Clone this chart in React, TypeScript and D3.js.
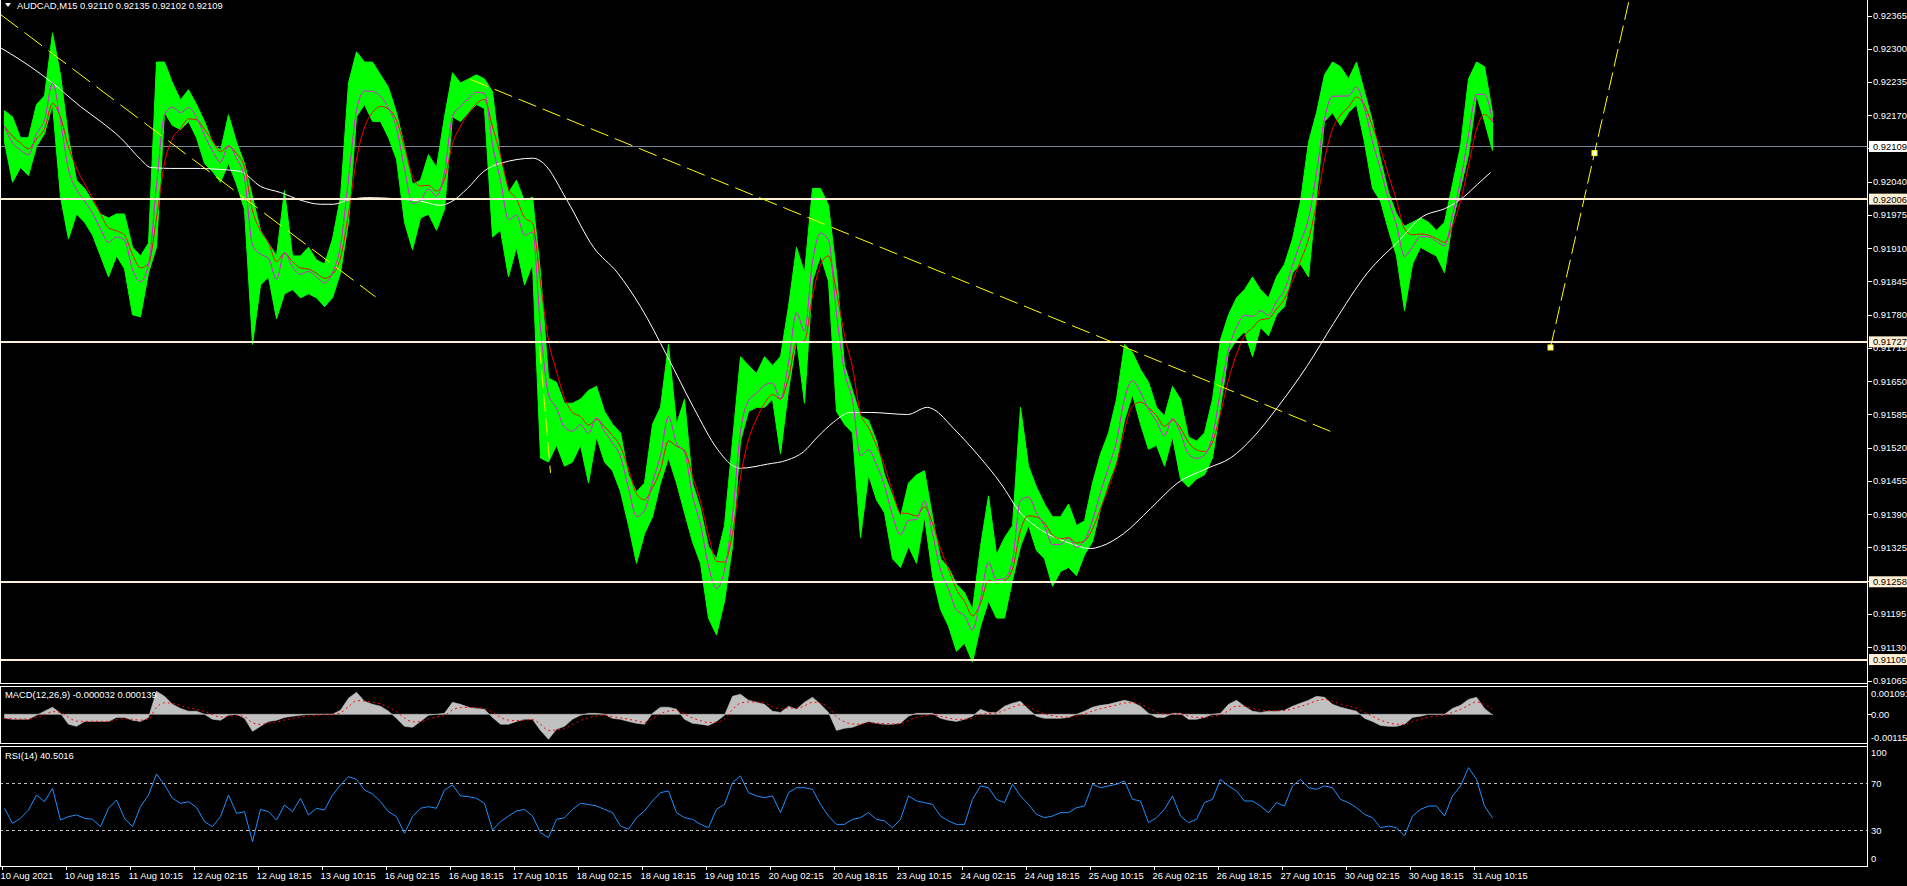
import React from "react";
import * as d3 from "d3";

// ---------- text ----------
const symbolTitle = "AUDCAD,M15  0.92110 0.92135 0.92102 0.92109";
const macdTitle = "MACD(12,26,9) -0.000032 0.000139";
const rsiTitle = "RSI(14) 40.5016";

const timeLabels = [
  "10 Aug 2021", "10 Aug 18:15", "11 Aug 10:15", "12 Aug 02:15", "12 Aug 18:15", "13 Aug 10:15",
  "16 Aug 02:15", "16 Aug 18:15", "17 Aug 10:15", "18 Aug 02:15", "18 Aug 18:15", "19 Aug 10:15",
  "20 Aug 02:15", "20 Aug 18:15", "23 Aug 10:15", "24 Aug 02:15", "24 Aug 18:15", "25 Aug 10:15",
  "26 Aug 02:15", "26 Aug 18:15", "27 Aug 10:15", "30 Aug 02:15", "30 Aug 18:15", "31 Aug 10:15",
];
const timeTickBars = [1, 65, 129, 193, 257, 321, 385, 449, 513, 577, 641, 705, 769, 833, 897, 961, 1025, 1089, 1153, 1217, 1281, 1345, 1409, 1473];

const priceTicks = [0.92365, 0.923, 0.92235, 0.9217, 0.92105, 0.9204, 0.91975, 0.9191, 0.91845, 0.9178, 0.91715,
  0.9165, 0.91585, 0.9152, 0.91455, 0.9139, 0.91325, 0.9126, 0.91195, 0.9113, 0.91065];
const priceTickLabels = ["0.92365", "0.92300", "0.92235", "0.92170", "0.92105", "0.92040", "0.91975", "0.91910", "0.91845",
  "0.91780", "0.91715", "0.91650", "0.91585", "0.91520", "0.91455", "0.91390", "0.91325", "0.91260", "0.91195", "0.91130", "0.91065"];

const levelPrices = [0.92006, 0.91727, 0.91258, 0.91106];
const levelLabels = ["0.92006", "0.91727", "0.91258", "0.91106"];
const lastPrice = 0.92109;
const lastPriceLabel = "0.92109";

// ---------- price samples (one every 8 bars, starting at bar 4) ----------
const SAMPLE_START = 4;
const SAMPLE_STEP = 8;

const hi = [
  0.92179, 0.92167, 0.92126, 0.92126, 0.92191, 0.92208, 0.92331, 0.92249, 0.92126, 0.92043,
  0.92027, 0.92002, 0.91977, 0.91969, 0.91977, 0.91977, 0.91912, 0.91895, 0.9192, 0.92274,
  0.92274, 0.92233, 0.922, 0.9222, 0.92191, 0.92158, 0.92117, 0.92101, 0.92171, 0.92117,
  0.92076, 0.9201, 0.91945, 0.9192, 0.91895, 0.92023, 0.91895, 0.91895, 0.91912, 0.91887,
  0.91879, 0.91928, 0.9201, 0.92233, 0.92294, 0.92274, 0.92274, 0.92249, 0.92224, 0.92175,
  0.92109, 0.92035, 0.92043, 0.92093, 0.92068, 0.92167, 0.92253, 0.92233, 0.92241, 0.92249,
  0.92241, 0.92216, 0.92084, 0.92019, 0.92043, 0.92002, 0.9201, 0.91862, 0.91656, 0.91648,
  0.91607, 0.91607, 0.91615, 0.91632, 0.9164, 0.91591, 0.91566, 0.91549, 0.91467, 0.91434,
  0.91451, 0.91566, 0.91599, 0.91722, 0.91566, 0.91615, 0.91451, 0.91401, 0.91327, 0.91303,
  0.91368, 0.91533, 0.91698, 0.91681, 0.91665, 0.91698, 0.91681, 0.91698, 0.91796, 0.91912,
  0.91862, 0.92027, 0.92027, 0.91994, 0.91862, 0.91681, 0.91632, 0.91582, 0.91574, 0.91533,
  0.91467, 0.91426, 0.91385, 0.91451, 0.91467, 0.91475, 0.91385, 0.91303, 0.91286, 0.91253,
  0.91237, 0.91204, 0.91327, 0.91426, 0.91311, 0.91344, 0.91368, 0.91599, 0.91484, 0.91443,
  0.9141, 0.91385, 0.91385, 0.9141, 0.91368, 0.91377, 0.91451, 0.91508, 0.91549, 0.91615,
  0.91722, 0.91706, 0.91673, 0.91648, 0.91599, 0.91582, 0.9164, 0.91615, 0.91541, 0.91533,
  0.91549, 0.91615, 0.91731, 0.9178, 0.91813, 0.91829, 0.91854, 0.91829, 0.91813, 0.91854,
  0.91879, 0.91928, 0.92002, 0.92117, 0.92175, 0.92249, 0.92274, 0.92265, 0.92241, 0.92274,
  0.92216, 0.92158, 0.92084, 0.92019, 0.91977, 0.91953, 0.91961, 0.91969, 0.91961, 0.91945,
  0.91961, 0.92035, 0.92109, 0.92241, 0.92274, 0.92265, 0.92175,
];
const lo = [
  0.92117, 0.92039, 0.92068, 0.92052, 0.92109, 0.92134, 0.92191, 0.9201, 0.91928, 0.91977,
  0.91961, 0.91936, 0.91895, 0.91854, 0.91895, 0.9187, 0.9178, 0.91776, 0.91862, 0.91912,
  0.92175, 0.9215, 0.92142, 0.92158, 0.92126, 0.92076, 0.9206, 0.92039, 0.92076, 0.92035,
  0.91986, 0.91722, 0.91838, 0.91854, 0.91772, 0.91821, 0.91829, 0.91813, 0.91821, 0.91813,
  0.91796, 0.91813, 0.91862, 0.91961, 0.92167, 0.92191, 0.92158, 0.92158, 0.92126, 0.92084,
  0.91961, 0.91907, 0.91969, 0.91977, 0.91945, 0.91986, 0.92167, 0.92158, 0.92175, 0.92191,
  0.92183, 0.91932, 0.91945, 0.91854, 0.91912, 0.91838, 0.91879, 0.915, 0.91492, 0.91525,
  0.91484, 0.91492, 0.91525, 0.91451, 0.91541, 0.91492, 0.91475, 0.91434, 0.91368, 0.91294,
  0.91352, 0.91385, 0.91451, 0.915, 0.91451, 0.91393, 0.91336, 0.91294, 0.91187, 0.91154,
  0.9122, 0.91327, 0.91533, 0.91591, 0.91599, 0.91599, 0.91615, 0.91508, 0.91632, 0.91731,
  0.91607, 0.91846, 0.91895, 0.91846, 0.91591, 0.91566, 0.91549, 0.91344, 0.91467, 0.91418,
  0.91393, 0.91303, 0.91286, 0.91327, 0.91294, 0.91385, 0.9127, 0.91204, 0.91171, 0.91122,
  0.91138, 0.91101, 0.91171, 0.9122, 0.91187, 0.91187, 0.91261, 0.91327, 0.91368, 0.91319,
  0.91303, 0.91249, 0.91278, 0.91286, 0.9127, 0.91311, 0.91336, 0.91401, 0.91451, 0.91492,
  0.91574, 0.91624, 0.91566, 0.91517, 0.91525, 0.91484, 0.91541, 0.91459, 0.91443, 0.91459,
  0.91467, 0.915, 0.91599, 0.91706, 0.91731, 0.91747, 0.91698, 0.91755, 0.91739, 0.9178,
  0.91796, 0.91862, 0.91879, 0.91854, 0.9201, 0.92158, 0.92175, 0.9215, 0.92175, 0.92191,
  0.92117, 0.92027, 0.92002, 0.91945, 0.91895, 0.91788, 0.91879, 0.91912, 0.91903, 0.91895,
  0.91862, 0.91961, 0.92027, 0.92093, 0.92208, 0.92158, 0.92101,
];

// ---------- long moving average (white) ----------
const maLongBars = [0, 20, 40, 60, 80, 100, 120, 140, 150, 170, 200, 220, 240, 260, 280, 300, 320, 333, 347, 367,
  400, 420, 440, 450, 467, 483, 500, 533, 543, 567, 593, 617, 640, 667, 693, 717, 733, 740, 767, 787,
  803, 817, 833, 850, 870, 907, 927, 933, 953, 980, 1000, 1020, 1040, 1067, 1090, 1100, 1123, 1150, 1177, 1207,
  1230, 1253, 1277, 1307, 1333, 1367, 1400, 1420, 1447, 1463, 1477, 1490];
const maLongVals = [0.92302, 0.92278, 0.92251, 0.9222, 0.92187, 0.92158, 0.92126, 0.92084, 0.92068, 0.92066,
  0.92066, 0.92064, 0.9206, 0.92031, 0.92019, 0.92004, 0.91996, 0.91996, 0.92004, 0.92009,
  0.92006, 0.92002, 0.91994, 0.92, 0.92027, 0.9206, 0.92076, 0.92086, 0.92076, 0.92002,
  0.91912, 0.91862, 0.91796, 0.91698, 0.91599, 0.91517, 0.91484, 0.9148, 0.91488, 0.91496,
  0.91512, 0.91541, 0.9157, 0.91589, 0.91589, 0.91585, 0.91599, 0.91595, 0.91558, 0.915,
  0.91451, 0.91393, 0.9136, 0.91335, 0.91323, 0.91327, 0.91352, 0.91401, 0.91451, 0.9148,
  0.915, 0.91541, 0.91599, 0.91681, 0.91763, 0.91862, 0.91928, 0.91969, 0.9199, 0.9201,
  0.92035, 0.92058];

// ---------- MACD main (histogram), same sampling ----------
const macdHist = [
  -0.00017, -0.00021, -0.00021, -0.00021, -0.00004, 0.00013, 0.0003, 0.00004, -0.00042, -0.00051,
  -0.0003, -0.0003, -0.0003, -0.0003, -0.00013, -0.00013, -0.00025, -0.0003, -0.00013, 0.00097,
  0.00076, 0.00042, 0.00025, 0.00013, 0.00013, 0, -0.00021, -0.00025, -0.00004, 0,
  -0.00017, -0.00072, -0.00051, -0.0003, -0.00025, -0.00013, -0.00008, -0.00004, 0, 0,
  0, 0, 0.00017, 0.00068, 0.00093, 0.00055, 0.00042, 0.00034, 0.00013, -0.00017,
  -0.00051, -0.00055, -0.0003, -0.00004, 0, 0.00004, 0.00051, 0.00042, 0.0003, 0.00025,
  0.00021, -0.00013, -0.00042,
  -0.00042, -0.0003, -0.00021, -0.00021, -0.00068, -0.00106, -0.00063, -0.00051, -0.00021, -0.00004,
  0.00004, 0.00004, 0, -0.00017, -0.00021, -0.0003, -0.00038, -0.00042, 0.00004, 0.0003,
  0.0003, 0.00021, -0.00021, -0.00038, -0.00042, -0.00047, -0.0003, -0.00004, 0.00076, 0.00085,
  0.00059, 0.00051, 0.00042, 0.00013, 0.00008, 0.00034, 0.00021, 0.00051, 0.00072, 0.00042,
  0.00008, -0.00068, -0.00059, -0.00055, -0.00042, -0.0003, -0.00038, -0.00042, -0.00042, -0.00038,
  -0.00008, 0.00004, 0.00004, 0.00004, -0.00017, -0.00025, -0.0003, -0.00021, -0.00008, 0.00021,
  0.00008, 0.00008, 0.00034, 0.00047, 0.00055, 0.00021, -0.00008, -0.00017, -0.00017, -0.00017,
  -0.00013, 0, 0.00013, 0.0003, 0.00038, 0.00042, 0.00051, 0.00059, 0.00051, 0.00034,
  0.00004, -0.00013, -0.00013, 0.00004, 0.00004, -0.00021, -0.00021, -0.00013, 0, 0.00004,
  0.00042, 0.00059, 0.00034, 0.00013, 0.00008, 0.00013, 0.00013, 0.00017, 0.00034, 0.00047,
  0.00059, 0.00076, 0.00072, 0.00042, 0.0003, 0.00021, 0.00013, -0.00017, -0.0003, -0.00047,
  -0.00051, -0.00051, -0.00042, -0.00013, -0.00008, 0, 0, 0, 0.00025, 0.00038,
  0.00063, 0.00072, 0.00025, -0.00003,
];

// ---------- RSI(14), same sampling ----------
const rsiVals = [
  48.7, 35.9, 40.2, 47.2, 60.0, 54.3, 65.7, 38.7, 41.6, 43.0,
  40.2, 39.3, 33.1, 48.7, 55.8, 40.2, 33.1, 50.1, 60.0, 77.9,
  68.5, 57.2, 52.9, 54.3, 49.5, 37.3, 33.1, 41.6, 60.0, 44.4,
  45.8, 20.3, 47.8, 45.8, 38.7, 51.5, 45.8, 57.2, 43.0, 48.7,
  47.2, 60.0, 68.5, 75.6, 73.3, 64.3, 60.9, 54.3, 45.8, 41.6,
  27.4, 41.6, 48.7, 50.1, 48.7, 64.3, 68.5, 59.2, 58.6, 57.2,
  52.9, 30.2, 37.3,
  42.1, 46.4, 47.8, 42.1, 27.9, 23.7, 39.3, 40.7, 47.8, 52.9,
  52.0, 50.6, 47.8, 45.0, 33.6, 30.8, 40.7, 46.4, 54.9, 62.0,
  63.4, 45.0, 40.7, 39.3, 35.0, 32.2, 47.8, 52.0, 70.5, 76.2,
  62.0, 59.2, 57.7, 59.2, 45.0, 62.0, 66.2, 66.2, 64.8, 52.0,
  42.1, 35.0, 35.0, 39.3, 40.7, 45.0, 39.3, 37.9, 32.2, 39.3,
  59.2, 54.9, 53.5, 52.0, 42.1, 37.9, 35.0, 35.0, 56.3, 67.7,
  66.2, 56.3, 53.5, 69.1, 59.2, 52.0, 43.5, 40.7, 42.1, 45.0,
  45.0, 49.2, 50.6, 69.1, 66.2, 67.7, 69.1, 71.9, 56.3, 54.9,
  36.5, 40.7, 47.8, 59.2, 42.1, 36.5, 39.3, 53.5, 56.3, 73.3,
  67.7, 63.4, 54.9, 54.9, 50.6, 45.0, 53.5, 50.6, 67.7, 73.3,
  66.2, 64.8, 67.7, 66.2, 56.3, 53.5, 49.2, 43.5, 40.7, 32.2,
  33.6, 32.2, 25.1, 42.1, 47.8, 50.6, 50.6, 42.1, 59.2, 67.7,
  83.3, 73.3, 50.6, 40.5,
];

// ---------- drawn trend lines (bar, price) ----------
const trendStartBars = [0, 470, 539, 1550];
const trendStartPrices = [0.92367, 0.9224, 0.91719, 0.91716];
const trendEndBars = [375, 1335, 550, 1594];
const trendEndPrices = [0.91815, 0.91548, 0.91471, 0.92096];
const trendIsRay = [false, false, false, true];

const FONT = "'Liberation Sans', Arial, sans-serif";
const LEVEL_COLOR = "#ffefd5";

function ema(vals: number[], alpha: number) {
  const out: number[] = [];
  vals.forEach((v, i) => out.push(i === 0 ? v : alpha * v + (1 - alpha) * out[i - 1]));
  return out;
}

export default function App() {
  const W = 1907, H = 886;
  const AXIS_X = 1867;

  const x = d3.scaleLinear().domain([0, 1866]).range([0.5, 1866.5]);
  const y = d3.scaleLinear().domain([0.91065, 0.92365]).range([680.5, 15.5]);
  const yM = d3.scaleLinear().domain([-0.00115, 0.001091]).range([741.5, 688.5]);
  const yR = d3.scaleLinear().domain([0, 100]).range([865.5, 748]);

  const idx = d3.range(hi.length);
  const bars = idx.map((k) => SAMPLE_START + SAMPLE_STEP * k);

  const band = d3.area<number>()
    .x((k) => x(bars[k]))
    .y0((k) => y(lo[k]))
    .y1((k) => y(hi[k]))
    .curve(d3.curveLinear)(idx) || "";

  const mids = idx.map((k) => (hi[k] + lo[k]) / 2);
  const maFast = ema(mids, 0.72);
  const maSlow = ema(mids, 0.42);
  const lineOf = (vals: number[]) =>
    d3.line<number>().x((k) => x(bars[k])).y((k) => y(vals[k])).curve(d3.curveMonotoneX)(idx) || "";

  const whiteIdx = d3.range(maLongBars.length);
  const whitePath = d3.line<number>().x((i) => x(maLongBars[i])).y((i) => y(maLongVals[i])).curve(d3.curveMonotoneX)(whiteIdx) || "";

  const histPath = d3.area<number>().x((k) => x(bars[k])).y0(yM(0)).y1((k) => yM(macdHist[k])).curve(d3.curveLinear)(idx) || "";
  const signal = ema(macdHist, 0.42);
  const signalPath = d3.line<number>().x((k) => x(bars[k])).y((k) => yM(signal[k])).curve(d3.curveMonotoneX)(idx) || "";

  const rsiPath = d3.line<number>().x((k) => x(bars[k])).y((k) => yR(rsiVals[k])).curve(d3.curveLinear)(idx) || "";

  const dashes = ["22,8", "19,7", "18,6", "18,6"];
  const trends = trendStartBars.map((b1, i) => {
    let b2 = trendEndBars[i], p2 = trendEndPrices[i];
    const p1 = trendStartPrices[i];
    if (trendIsRay[i]) {
      const slope = (p2 - p1) / (b2 - b1);
      b2 = b1 + (b2 - b1) * 3;
      p2 = p1 + slope * (b2 - b1);
    }
    return { x1: x(b1), y1: y(p1), x2: x(b2), y2: y(p2), dash: dashes[i] };
  });

  const fs = 9.4;
  const yLast = Math.round(y(lastPrice)) + 0.5;

  return (
    <svg width={W} height={H} style={{ position: "fixed", left: 0, top: 0, background: "#000" }} fontFamily={FONT}>
      <defs>
        <clipPath id="mainClip"><rect x={0} y={0} width={AXIS_X} height={683} /></clipPath>
        <clipPath id="macdClip"><rect x={0} y={687} width={AXIS_X} height={56} /></clipPath>
        <clipPath id="rsiClip"><rect x={0} y={747} width={AXIS_X} height={119} /></clipPath>
      </defs>
      <rect x={0} y={0} width={W} height={H} fill="#000" />

      {/* ---------- main price panel ---------- */}
      <g clipPath="url(#mainClip)">
        <line x1={0} x2={AXIS_X} y1={yLast} y2={yLast} stroke="#7a8795" strokeWidth={1} shapeRendering="crispEdges" />
        <path d={band} fill="#00ff00" stroke="#00ff00" strokeWidth={1} />
        <path d={whitePath} fill="none" stroke="#ffffff" strokeWidth={1} />
        <path d={lineOf(maSlow)} fill="none" stroke="#ff0000" strokeWidth={1} />
        <path d={lineOf(maFast)} fill="none" stroke="#ff00ff" strokeWidth={1} />
        {levelPrices.map((p, i) => (
          <line key={i} x1={0} x2={AXIS_X} y1={Math.round(y(p))} y2={Math.round(y(p))} stroke={LEVEL_COLOR} strokeWidth={2} shapeRendering="crispEdges" />
        ))}
        {trends.map((t, i) => (
          <line key={i} x1={t.x1} y1={t.y1} x2={t.x2} y2={t.y2} stroke="#ffff00" strokeWidth={1} strokeDasharray={t.dash} />
        ))}
        {[0, 1].map((j) => {
          const bx = x(j === 0 ? trendStartBars[3] : trendEndBars[3]);
          const by = y(j === 0 ? trendStartPrices[3] : trendEndPrices[3]);
          return <rect key={j} x={bx - 2.5} y={by - 2.5} width={5} height={5} fill="#ffffff" stroke="#ffff00" strokeWidth={1} />;
        })}
      </g>
      <path d="M5,3 L11,3 L8,7 Z" fill="#ffffff" />
      <text x={17} y={8.5} fontSize={fs} fill="#ffffff">{symbolTitle}</text>

      {/* ---------- MACD panel ---------- */}
      <g clipPath="url(#macdClip)">
        <path d={histPath} fill="#c0c0c0" stroke="#c0c0c0" strokeWidth={0.6} />
        <path d={signalPath} fill="none" stroke="#ff0000" strokeWidth={1} strokeDasharray="2,3" />
      </g>
      <text x={5} y={697.5} fontSize={fs} fill="#ffffff">{macdTitle}</text>

      {/* ---------- RSI panel ---------- */}
      <g clipPath="url(#rsiClip)">
        {[70, 30].map((v) => (
          <line key={v} x1={0} x2={AXIS_X} y1={Math.round(yR(v)) + 0.5} y2={Math.round(yR(v)) + 0.5} stroke="#c0c0c0" strokeDasharray="3,3" shapeRendering="crispEdges" />
        ))}
        <path d={rsiPath} fill="none" stroke="#1e90ff" strokeWidth={1} />
      </g>
      <text x={5} y={759} fontSize={fs} fill="#ffffff">{rsiTitle}</text>

      {/* ---------- panel borders ---------- */}
      <g fill="none" stroke="#ffffff" strokeWidth={1} shapeRendering="crispEdges">
        <line x1={0.5} y1={0} x2={0.5} y2={683} />
        <line x1={0} y1={683.5} x2={AXIS_X} y2={683.5} />
        <rect x={0.5} y={686.5} width={AXIS_X - 0.5} height={56.5} />
        <rect x={0.5} y={746.5} width={AXIS_X - 0.5} height={119.5} />
        <line x1={AXIS_X + 0.5} y1={0} x2={AXIS_X + 0.5} y2={866} />
      </g>

      {/* ---------- price axis ---------- */}
      {priceTicks.map((p, i) => (
        <g key={i}>
          <line x1={AXIS_X + 1} x2={AXIS_X + 5} y1={Math.round(y(p)) + 0.5} y2={Math.round(y(p)) + 0.5} stroke="#ffffff" shapeRendering="crispEdges" />
          <text x={1873} y={y(p) + 3.4} fontSize={fs} fill="#ffffff">{priceTickLabels[i]}</text>
        </g>
      ))}
      {levelPrices.map((p, i) => (
        <g key={i}>
          <rect x={1869} y={y(p) - 5.5} width={38} height={11} fill={LEVEL_COLOR} />
          <text x={1873} y={y(p) + 3.4} fontSize={fs} fill="#000000">{levelLabels[i]}</text>
        </g>
      ))}
      <rect x={1869} y={y(lastPrice) - 5.5} width={38} height={11} fill="#ffffff" />
      <text x={1873} y={y(lastPrice) + 3.4} fontSize={fs} fill="#000000">{lastPriceLabel}</text>

      {/* MACD axis */}
      <text x={1871} y={697.4} fontSize={fs} fill="#ffffff">0.001091</text>
      <line x1={AXIS_X + 1} x2={AXIS_X + 5} y1={Math.round(yM(0)) + 0.5} y2={Math.round(yM(0)) + 0.5} stroke="#ffffff" shapeRendering="crispEdges" />
      <text x={1871} y={yM(0) + 3.4} fontSize={fs} fill="#ffffff">0.00</text>
      <text x={1871} y={741.4} fontSize={fs} fill="#ffffff">-0.00115</text>

      {/* RSI axis */}
      <text x={1871} y={756.4} fontSize={fs} fill="#ffffff">100</text>
      <text x={1871} y={yR(70) + 3.4} fontSize={fs} fill="#ffffff">70</text>
      <text x={1871} y={yR(30) + 3.4} fontSize={fs} fill="#ffffff">30</text>
      <text x={1871} y={862.4} fontSize={fs} fill="#ffffff">0</text>

      {/* ---------- time axis ---------- */}
      {timeTickBars.map((b, i) => (
        <g key={i}>
          <line x1={Math.round(x(b)) + 0.5} x2={Math.round(x(b)) + 0.5} y1={866} y2={870} stroke="#ffffff" shapeRendering="crispEdges" />
          <text x={x(b) - 1} y={879.2} fontSize={fs} fill="#ffffff">{timeLabels[i]}</text>
        </g>
      ))}
    </svg>
  );
}
